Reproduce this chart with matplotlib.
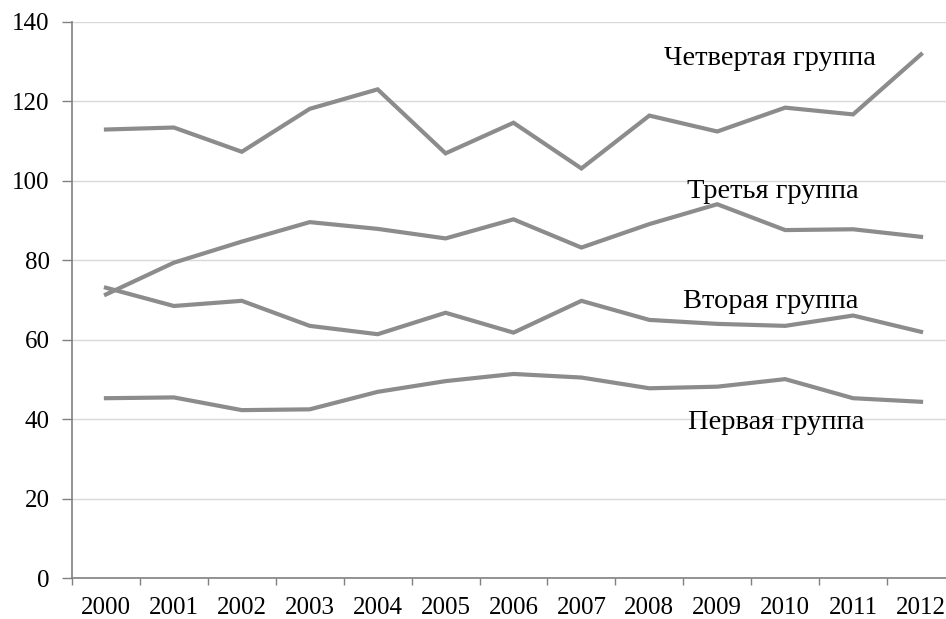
import matplotlib
matplotlib.use("Agg")
import matplotlib.pyplot as plt
import numpy as np

years = ["2000", "2001", "2002", "2003", "2004", "2005", "2006",
         "2007", "2008", "2009", "2010", "2011", "2012"]

group1 = [45.3, 45.5, 42.3, 42.5, 46.9, 49.6, 51.4, 50.5, 47.8, 48.2, 50.1, 45.3, 44.4]
group2 = [73.1, 68.5, 69.8, 63.5, 61.4, 66.8, 61.8, 69.8, 65.0, 64.0, 63.5, 66.1, 62.0]
group3 = [71.4, 79.4, 84.7, 89.6, 87.9, 85.5, 90.3, 83.2, 89.1, 94.1, 87.6, 87.8, 85.9]
group4 = [112.9, 113.4, 107.3, 118.1, 123.0, 106.9, 114.6, 103.1, 116.4, 112.4, 118.4, 116.7, 131.8]

series = [group1, group2, group3, group4]
labels = ["Первая группа", "Вторая группа", "Третья группа", "Четвертая группа"]
# label anchor (category index, baseline value)
label_x = [9.87, 9.78, 9.82, 9.78]
label_y = [37.6, 68.0, 95.7, 129.1]

plt.rcParams["font.family"] = ["Liberation Serif", "DejaVu Serif"]

fig = plt.figure(figsize=(9.46, 6.19), dpi=100)
ax = fig.add_axes([0.0761, 0.0658, 0.9334, 0.899])

x = np.arange(len(years))
line_color = "#8c8c8c"
for vals in series:
    ax.plot(x, vals, color=line_color, lw=3.0, solid_joinstyle="miter", zorder=3)

for txt, lx, ly in zip(labels, label_x, label_y):
    ax.text(lx, ly, txt, ha="center", va="baseline", fontsize=20.5, color="black", zorder=4)

ax.set_xlim(-0.5, len(years) - 0.5)
ax.set_ylim(0, 140)
ax.set_yticks(np.arange(0, 141, 20))
ax.yaxis.grid(True, color="#d9d9d9", lw=1.0)
ax.set_axisbelow(True)

# category boundaries get the tick marks, labels sit in the middle
ax.set_xticks(np.arange(-0.5, len(years), 1.0))
ax.set_xticklabels([])
ax.set_xticks(x, minor=True)
ax.set_xticklabels(years, minor=True)
ax.tick_params(axis="x", which="major", length=5, width=1, color="#808080", direction="out")
ax.tick_params(axis="x", which="minor", length=0, pad=13.5, labelsize=18)
ax.tick_params(axis="y", length=7, width=1, color="#808080", pad=9, labelsize=18)

for side in ["top", "right"]:
    ax.spines[side].set_visible(False)
for side in ["left", "bottom"]:
    ax.spines[side].set_color("#808080")
    ax.spines[side].set_linewidth(1.2)

fig.savefig("out.png", dpi=100)
